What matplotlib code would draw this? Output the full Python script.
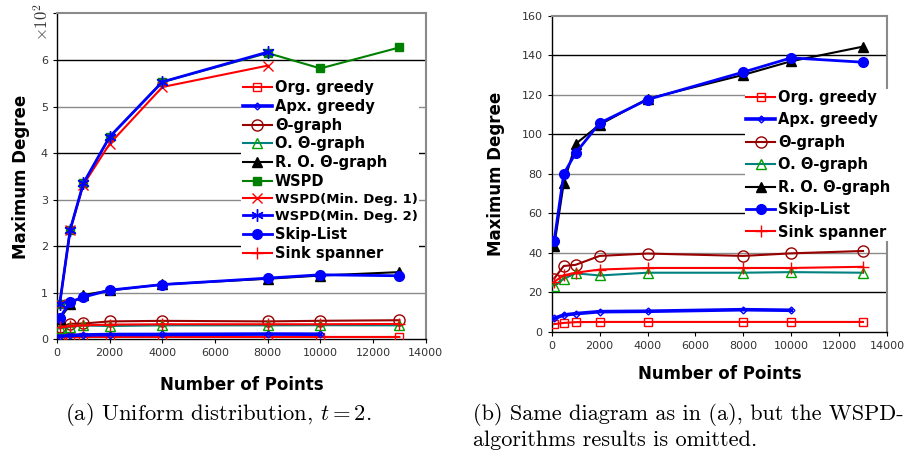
import matplotlib.pyplot as plt

# ----------------------------
# Data (maximum degree per algorithm)
# ----------------------------
n_points = [100, 500, 1000, 2000, 4000, 8000, 10000, 13000]

org_greedy = [4, 4.6, 5, 5.1, 5.1, 5.1, 5.1, 5.1]
apx_greedy = [6.9, 8.6, 9.3, 10.3, 10.5, 11.3, 11]          # no run at 13000
theta_graph = [27, 33.4, 34, 38.5, 39.7, 38.5, 39.8, 41]
o_theta_graph = [23.4, 26.9, 29.7, 28.6, 30, 30, 30.3, 30]
r_o_theta_graph = [43.4, 75.3, 95.2, 104.9, 118, 130.1, 137, 144.4]
wspd = [75, 235, 335, 435, 553, 615, 582, 627]
wspd_min1 = [75, 235, 332, 420, 542, 588]                   # up to 8000
wspd_min2 = [75, 235, 335, 435, 553, 617]                   # up to 8000
skip_list = [46, 80, 90.6, 105.7, 117.6, 131.5, 138.7, 136.5]
sink_spanner = [25.4, 28.7, 30, 31.6, 32.4, 32.4, 32.4, 33]

# label, values, line colour, marker, marker face, marker edge, lw, ms, in WSPD group
series = [
    ("Org. greedy", org_greedy, "#ff0000", "s", "none", "#ff0000", 1.5, 6, False),
    ("Apx. greedy", apx_greedy, "#0000ff", "D", "none", "#0000ff", 2.6, 3.5, False),
    ("Θ-graph", theta_graph, "#990000", "o", "none", "#990000", 1.5, 8, False),
    ("O. Θ-graph", o_theta_graph, "#008080", "^", "none", "#00a000", 1.5, 7, False),
    ("R. O. Θ-graph", r_o_theta_graph, "#000000", "^", "#000000", "#000000", 1.5, 7, False),
    ("WSPD", wspd, "#008000", "s", "#008000", "#008000", 1.5, 6, True),
    ("WSPD(Min. Deg. 1)", wspd_min1, "#ff0000", "x", "none", "#ff0000", 1.5, 7, True),
    ("WSPD(Min. Deg. 2)", wspd_min2, "#0000ff", (6, 2, 0), "none", "#0000ff", 2.0, 9, True),
    ("Skip-List", skip_list, "#0000ff", "o", "#0000ff", "#0000ff", 2.0, 7, False),
    ("Sink spanner", sink_spanner, "#ff0000", "+", "none", "#ff0000", 1.5, 8, False),
]

plt.rcParams["mathtext.fontset"] = "cm"

fig = plt.figure(figsize=(9.06, 4.57), dpi=100)
ax_a = fig.add_axes([0.0629, 0.2575, 0.407, 0.713])
ax_b = fig.add_axes([0.609, 0.2735, 0.370, 0.692])


def draw(ax, scale, with_wspd):
    for label, vals, col, mk, mfc, mec, lw, ms, is_wspd in series:
        if is_wspd and not with_wspd:
            continue
        ax.plot(n_points[:len(vals)], [v / scale for v in vals], color=col,
                marker=mk, mfc=mfc, mec=mec, mew=1.0, lw=lw, ms=ms, label=label,
                zorder=3)


def style(ax, yticks, first_black):
    ax.set_xlim(0, 14000)
    ax.set_xticks(range(0, 14001, 2000))
    ax.set_ylim(yticks[0], yticks[-1])
    ax.set_yticks(yticks)
    # alternating black / gray gridlines
    for i, y in enumerate(yticks[1:-1], start=1):
        c = "black" if (i % 2 == 0) == first_black else "#8a8a8a"
        ax.axhline(y, color=c, lw=1.0, zorder=1)
    for s in ["top", "right"]:
        ax.spines[s].set_color("#8a8a8a")
        ax.spines[s].set_linewidth(1.5)
    for s in ["left", "bottom"]:
        ax.spines[s].set_color("black")
        ax.spines[s].set_linewidth(1.0)
    ax.tick_params(labelsize=8, labelcolor="#333333", length=3, direction="out")
    ax.set_xlabel("Number of Points", fontsize=12, fontweight="bold")
    ax.set_ylabel("Maximum Degree", fontsize=12, fontweight="bold")


# (a) all algorithms, y in hundreds
draw(ax_a, 100, True)
style(ax_a, list(range(0, 8)), True)
ax_a.set_yticklabels([str(i) for i in range(7)] + [""])
ax_a.xaxis.labelpad = 13
ax_a.yaxis.labelpad = 8
ax_a.text(-0.04, 1.03, r"$\times10^2$", transform=ax_a.transAxes, rotation=90,
          ha="center", va="top", fontsize=12, color="#333333")
leg_a = ax_a.legend(loc="upper left", bbox_to_anchor=(0.5, 0.80), frameon=True,
                    facecolor="white", edgecolor="none", framealpha=1.0,
                    prop={"weight": "bold", "size": 10.5}, handlelength=2.0,
                    handletextpad=0.2, labelspacing=0.26, borderpad=0.1,
                    borderaxespad=0)
for t in leg_a.get_texts():
    if "Min." in t.get_text():
        t.set_fontsize(9.5)

# (b) without the WSPD variants
draw(ax_b, 1, False)
style(ax_b, list(range(0, 161, 20)), False)
ax_b.xaxis.labelpad = 10
ax_b.yaxis.labelpad = 12
ax_b.legend(loc="upper left", bbox_to_anchor=(0.575, 0.77), frameon=True,
            facecolor="white", edgecolor="none", framealpha=1.0,
            prop={"weight": "bold", "size": 10.5}, handlelength=2.0,
            handletextpad=0.2, labelspacing=0.51, borderpad=0.1,
            borderaxespad=0)

# captions
fig.text(65 / 906, 1 - 415 / 457, "(a) Uniform distribution, $t = 2$.",
         family="cmr10", fontsize=16.3, va="center", ha="left")
fig.text(473 / 906, 1 - 415 / 457, "(b) Same diagram as in (a), but the WSPD-",
         family="cmr10", fontsize=16, va="center", ha="left")
fig.text(473 / 906, 1 - 440 / 457, "algorithms results is omitted.",
         family="cmr10", fontsize=16, va="center", ha="left")

fig.savefig("out.png", dpi=100)
